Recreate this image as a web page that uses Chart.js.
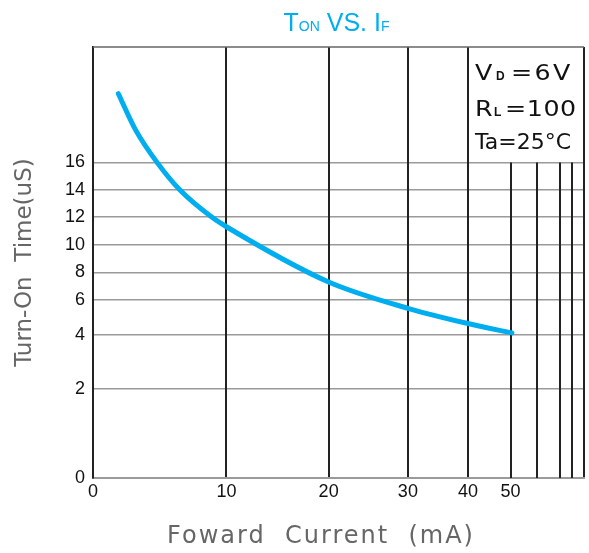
<!DOCTYPE html>
<html>
<head>
<meta charset="utf-8">
<script src="https://cdn.jsdelivr.net/npm/chart.js@4.4.1/dist/chart.umd.min.js"></script>
<style>
  html, body { margin: 0; padding: 0; background: #fff; }
  #wrap { width: 589px; height: 553px; }
</style>
</head>
<body>
<div id="wrap"><canvas id="ton_chart" width="589" height="553"></canvas></div>
<script>
// forward current (mA) vs turn-on time (uS)
var current_ma = [1.9, 3.2, 4.8, 6.5, 8.9, 10, 20, 30, 40, 50.5];
var turn_on_us = [21.0, 18.35, 16, 14, 12, 11.3, 7.3, 5.52, 4.64, 4.1];

var x_ticks = [0, 10, 20, 30, 40, 50, 60, 70, 80, 90];
var x_labels = ['0', '10', '20', '30', '40', '50', '', '', '', ''];
var y_ticks = [0, 2, 4, 6, 8, 10, 12, 14, 16];

// the paper grid is not uniform: where each tick sits along its axis (0..1)
var knots = {
  x: { vals: x_ticks, pos: [0, 0.2717, 0.4799, 0.6413, 0.7636, 0.8504, 0.9034, 0.9517, 0.9762, 1] },
  y: { vals: [0, 2, 4, 6, 8, 10, 12, 14, 16, 24.4], pos: [0, 0.2065, 0.3327, 0.4130, 0.4773, 0.5415, 0.6053, 0.6687, 0.7323, 1] }
};

class KnotScale extends Chart.LinearScale {
  getPixelForValue(value) {
    var k = knots[this.id], i = 1;
    while (i < k.vals.length - 1 && value > k.vals[i]) i++;
    var t = (value - k.vals[i - 1]) / (k.vals[i] - k.vals[i - 1]);
    return this.getPixelForDecimal(k.pos[i - 1] + t * (k.pos[i] - k.pos[i - 1]));
  }
  getValueForPixel(pixel) {
    var k = knots[this.id], d = this.getDecimalForPixel(pixel), i = 1;
    while (i < k.pos.length - 1 && d > k.pos[i]) i++;
    var t = (d - k.pos[i - 1]) / (k.pos[i] - k.pos[i - 1]);
    return k.vals[i - 1] + t * (k.vals[i] - k.vals[i - 1]);
  }
}
KnotScale.id = 'knot';
KnotScale.defaults = Chart.LinearScale.defaults;
Chart.register(KnotScale);

// draw a piece of text, optionally stretched sideways (the sheet uses a wide font)
function drawText(ctx, text, font, x, y, sx, spacing) {
  ctx.save();
  ctx.font = font;
  ctx.letterSpacing = (spacing || 0) + 'px';
  ctx.translate(x, y);
  ctx.scale(sx || 1, 1);
  ctx.fillText(text, 0, 0);
  var w = ctx.measureText(text).width * (sx || 1);
  ctx.restore();
  return w;
}

var paper_plugin = {
  id: 'paper',
  beforeDatasetsDraw: function (chart) {
    var ctx = chart.ctx, x = chart.scales.x, y = chart.scales.y, area = chart.chartArea;
    ctx.save();
    ctx.strokeStyle = '#666';
    ctx.lineWidth = 1.5;
    ctx.beginPath();
    ctx.moveTo(area.left, area.top);
    ctx.lineTo(area.right, area.top);
    ctx.stroke();
    // 50..80 mA lines stop under the conditions box
    ctx.strokeStyle = '#222';
    ctx.lineWidth = 2;
    x_ticks.filter(function (v) { return v > 40 && v < 90; }).forEach(function (v) {
      var px = Math.round(x.getPixelForValue(v));
      ctx.beginPath();
      ctx.moveTo(px, y.getPixelForValue(16));
      ctx.lineTo(px, area.bottom);
      ctx.stroke();
    });
    ctx.restore();
  },
  afterDraw: function (chart) {
    var ctx = chart.ctx;
    ctx.save();
    ctx.textBaseline = 'alphabetic';
    ctx.textAlign = 'left';

    // title  T(on) VS. I(f)
    var big = '25px "Liberation Sans"', small = '14px "Liberation Sans"';
    var runs = [['T', big], ['ON', small], [' VS. I', big], ['F', small]];
    var w = 0;
    runs.forEach(function (r) { ctx.font = r[1]; w += ctx.measureText(r[0]).width; });
    ctx.fillStyle = '#00aeef';
    var tx = 336.5 - w / 2;
    runs.forEach(function (r) { tx += drawText(ctx, r[0], r[1], tx, 31); });

    // conditions box
    ctx.fillStyle = '#111';
    var f = '22px "DejaVu Sans"', sub = 'bold 12px "Liberation Sans"';
    drawText(ctx, 'V', f, 475, 80, 1.15);
    drawText(ctx, 'D', sub, 496, 80);
    drawText(ctx, '=6V', f, 511, 80, 1.15, 2);
    drawText(ctx, 'R', f, 475, 116, 1.15);
    drawText(ctx, 'L', sub, 494, 116);
    drawText(ctx, '=100', f, 505, 116, 1.15, 0.5);
    drawText(ctx, 'Ta=25°C', f, 475, 149);

    // x axis title
    ctx.fillStyle = '#666';
    ctx.font = '24px "DejaVu Sans"';
    ctx.letterSpacing = '2px';
    ctx.textAlign = 'center';
    ctx.fillText('Foward  Current  (mA)', 321, 543);
    ctx.restore();
  }
};

var ton_ctx = document.getElementById('ton_chart').getContext('2d');
var ton_chart = new Chart(ton_ctx, {
  type: 'line',
  data: {
    datasets: [{
      label: 'Ton',
      data: current_ma.map(function (v, i) { return { x: v, y: turn_on_us[i] }; }),
      borderColor: '#00aeef',
      borderWidth: 5,
      borderCapStyle: 'round',
      borderJoinStyle: 'round',
      pointRadius: 0,
      cubicInterpolationMode: 'monotone',
      fill: false
    }]
  },
  options: {
    responsive: false,
    animation: false,
    layout: { padding: { top: 47, right: 5, bottom: 0, left: 0 } },
    plugins: { legend: { display: false }, tooltip: { enabled: false } },
    scales: {
      x: {
        type: 'knot',
        min: 0,
        max: 90,
        afterBuildTicks: function (s) { s.ticks = x_ticks.map(function (v) { return { value: v }; }); },
        afterFit: function (s) { s.height = 75; },
        ticks: {
          autoSkip: false,
          maxRotation: 0,
          padding: 3,
          color: '#111',
          font: { family: 'Liberation Sans', size: 18 },
          callback: function (v, i) { return x_labels[i]; }
        },
        grid: {
          z: -1,
          drawTicks: false,
          lineWidth: 2,
          color: function (c) { return (c.tick && c.tick.value > 40 && c.tick.value < 90) ? 'rgba(0,0,0,0)' : '#222'; }
        },
        border: { color: '#9a9a9a', width: 2 }
      },
      y: {
        type: 'knot',
        min: 0,
        max: 24.4,
        afterBuildTicks: function (s) { s.ticks = y_ticks.map(function (v) { return { value: v }; }); },
        afterFit: function (s) { s.width = 93; },
        ticks: {
          padding: 8,
          color: '#111',
          font: { family: 'Liberation Sans', size: 18 }
        },
        grid: { z: -2, drawTicks: false, lineWidth: 1.5, color: '#9a9a9a' },
        border: { color: '#222', width: 2 },
        title: {
          display: true,
          text: 'Turn-On  Time(uS)',
          color: '#666',
          font: { family: 'DejaVu Sans', size: 23 },
          padding: { top: 11, bottom: 0 }
        }
      }
    }
  },
  plugins: [paper_plugin]
});
</script>
</body>
</html>
